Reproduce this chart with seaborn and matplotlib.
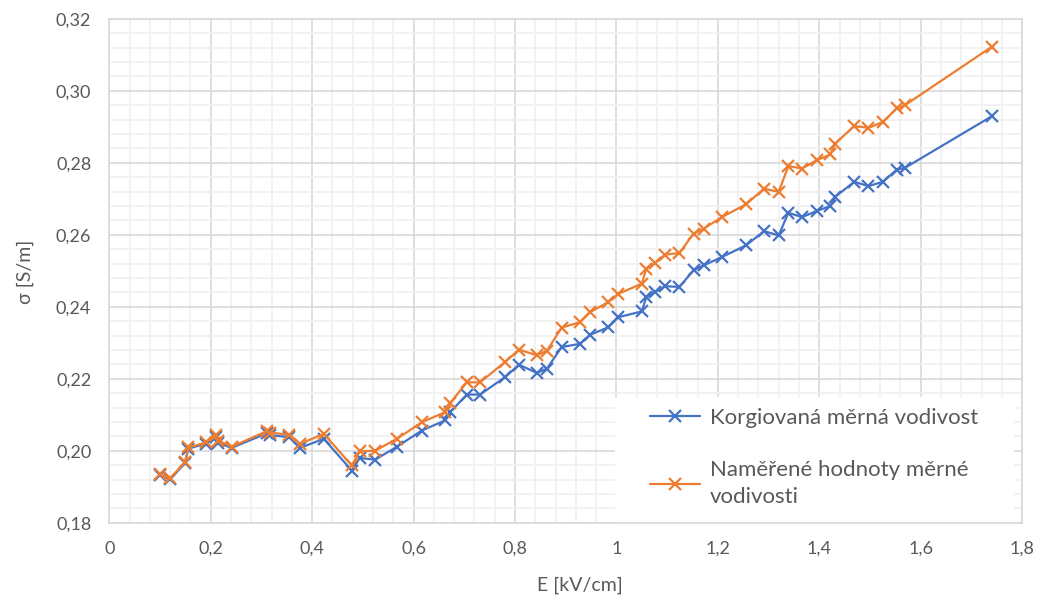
import pandas as pd
import seaborn as sns
import matplotlib.pyplot as plt
from matplotlib.patches import Rectangle
from matplotlib.ticker import MultipleLocator, FuncFormatter

# hodnoty
E = [0.100, 0.120, 0.149, 0.156, 0.191, 0.211, 0.215, 0.241, 0.310, 0.317,
     0.355, 0.376, 0.423, 0.478, 0.494, 0.524, 0.567, 0.616, 0.662, 0.672,
     0.705, 0.731, 0.780, 0.808, 0.843, 0.863, 0.892, 0.928, 0.948, 0.984,
     1.004, 1.050, 1.059, 1.076, 1.096, 1.124, 1.152, 1.172, 1.208, 1.256,
     1.291, 1.320, 1.339, 1.366, 1.395, 1.422, 1.431, 1.469, 1.497, 1.525,
     1.553, 1.569, 1.740]

sigma_korig = [0.1932, 0.1921, 0.1965, 0.2006, 0.2020, 0.2038, 0.2022, 0.2008, 0.2048, 0.2043,
               0.2038, 0.2008, 0.2033, 0.1945, 0.1980, 0.1975, 0.2011, 0.2056, 0.2084, 0.2107,
               0.2156, 0.2156, 0.2204, 0.2239, 0.2216, 0.2228, 0.2288, 0.2297, 0.2322, 0.2343,
               0.2371, 0.2387, 0.2427, 0.2441, 0.2457, 0.2455, 0.2501, 0.2515, 0.2538, 0.2571,
               0.2610, 0.2598, 0.2661, 0.2649, 0.2666, 0.2680, 0.2705, 0.2747, 0.2735, 0.2747,
               0.2781, 0.2786, 0.2929]

sigma_namer = [0.1934, 0.1923, 0.1968, 0.2009, 0.2023, 0.2045, 0.2028, 0.2011, 0.2054, 0.2050,
               0.2045, 0.2019, 0.2047, 0.1959, 0.1998, 0.2000, 0.2033, 0.2079, 0.2107, 0.2132,
               0.2190, 0.2190, 0.2246, 0.2281, 0.2265, 0.2278, 0.2342, 0.2357, 0.2385, 0.2413,
               0.2436, 0.2464, 0.2506, 0.2521, 0.2545, 0.2549, 0.2603, 0.2617, 0.2649, 0.2685,
               0.2728, 0.2719, 0.2791, 0.2784, 0.2807, 0.2823, 0.2853, 0.2902, 0.2897, 0.2913,
               0.2951, 0.2960, 0.3122]

nazvy = ["Korgiovaná měrná vodivost", "Naměřené hodnoty měrné\nvodivosti"]
barvy = ["#4472C4", "#ED7D31"]

df = pd.concat([
    pd.DataFrame({"E": E, "sigma": sigma_korig, "serie": nazvy[0]}),
    pd.DataFrame({"E": E, "sigma": sigma_namer, "serie": nazvy[1]}),
])

sns.set_style("white")
plt.rcParams["font.family"] = ["Lato", "DejaVu Sans"]
seda = "#595959"

fig = plt.figure(figsize=(10.43, 6.05), dpi=100)
ax = fig.add_axes([0.1048, 0.136, 0.8752, 0.833])

sns.lineplot(data=df, x="E", y="sigma", hue="serie", palette=barvy,
             estimator=None, sort=False, marker="x", markersize=8,
             markeredgewidth=1.6, linewidth=1.6, ax=ax)

# seaborn dava krizkum bily okraj -> prebarvit na barvu cary
for ln in ax.lines:
    ln.set_markeredgecolor(ln.get_color())

ax.set_xlim(0, 1.8)
ax.set_ylim(0.18, 0.32)
ax.xaxis.set_major_locator(MultipleLocator(0.2))
ax.xaxis.set_minor_locator(MultipleLocator(0.04))
ax.yaxis.set_major_locator(MultipleLocator(0.02))
ax.yaxis.set_minor_locator(MultipleLocator(0.004))
ax.xaxis.set_major_formatter(FuncFormatter(lambda v, p: f"{v:.1f}".rstrip("0").rstrip(".").replace(".", ",") if abs(v) > 1e-9 else "0"))
ax.yaxis.set_major_formatter(FuncFormatter(lambda v, p: f"{v:.2f}".replace(".", ",")))

ax.grid(which="major", color="#d9d9d9", linewidth=1.2)
ax.grid(which="minor", color="#f0f0f0", linewidth=1.2)
ax.set_axisbelow(True)
for s in ax.spines.values():
    s.set_color("#d9d9d9")
    s.set_linewidth(1.2)
ax.tick_params(which="both", length=0, labelsize=13, colors=seda, pad=13)

ax.set_xlabel("E [kV/cm]", fontsize=14, color=seda)
ax.set_ylabel("σ [S/m]", fontsize=14, color=seda)
ax.xaxis.set_label_coords(0.516, -0.107)
ax.yaxis.set_label_coords(-0.083, 0.497)

# bily podklad legendy jako v Excelu
ax.add_patch(Rectangle((0.554, 0.0), 0.437, 0.249, transform=ax.transAxes,
                       facecolor="white", edgecolor="none", zorder=1))

leg = ax.legend(loc="upper left", bbox_to_anchor=(0.592, 0.228), frameon=False,
                fontsize=16, handlelength=2.25, handletextpad=0.45, labelspacing=1.45,
                borderpad=0, borderaxespad=0)
for t in leg.get_texts():
    t.set_color(seda)
    t.set_linespacing(1.45)
for h in leg.get_lines():
    h.set_markeredgecolor(h.get_color())

plt.savefig("out.png", dpi=100)
